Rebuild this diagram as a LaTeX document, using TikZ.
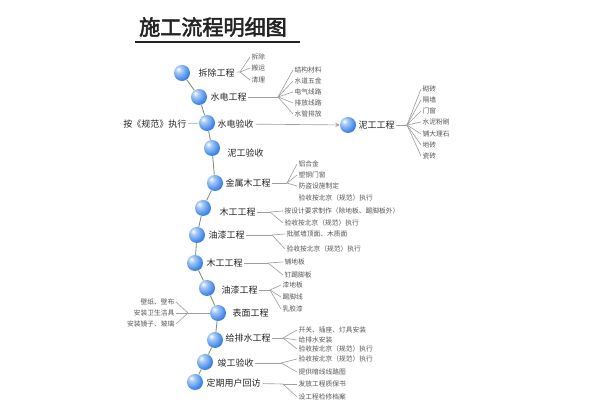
\documentclass[tikz,border=0pt]{standalone}
\usepackage{fontspec}
\newfontfamily\cjk[AutoFakeBold=2.5]{Noto Sans CJK SC}
\definecolor{ballblue}{RGB}{70,140,235}
\definecolor{balldark}{RGB}{25,75,170}
\definecolor{spine}{RGB}{120,145,115}
\definecolor{txt}{RGB}{35,35,35}
\definecolor{sub}{RGB}{85,85,85}
\pgfdeclareradialshading{glassball}{\pgfpoint{-12bp}{12bp}}{%
  color(0bp)=(white); color(9bp)=(ballblue!45!white); color(28bp)=(ballblue);
  color(48bp)=(balldark); color(70bp)=(balldark); color(100bp)=(balldark)}

\begin{document}
\begin{tikzpicture}[x=0.025cm,y=-0.025cm,
    ball/.style={circle,minimum size=0.4cm,inner sep=0pt,shading=glassball},
    main/.style={font=\cjk\fontsize{6.4}{7}\selectfont,text=txt,anchor=west,inner sep=1pt},
    item/.style={font=\cjk\fontsize{4.8}{5.5}\selectfont,text=sub,anchor=west,inner sep=1pt},
    wire/.style={draw=gray!75,line width=0.45pt}]
  \useasboundingbox (0,0) rectangle (600,412);

  \node[font=\cjk\bfseries\fontsize{15}{17}\selectfont,text=txt] (title) at (213,27) {施工流程明细图};
  \draw[line width=1.1pt,txt] (135,42) -- (300,42);

  % main chain
  \node[ball] (a1) at (182,73) {};
  \node[ball] (a2) at (199,97) {};
  \node[ball] (a3) at (207,123) {};
  \node[ball] (a4) at (212,148) {};
  \node[ball] (a5) at (215,183) {};
  \node[ball] (a6) at (203,208) {};
  \node[ball] (a7) at (197,235) {};
  \node[ball] (a8) at (195,263) {};
  \node[ball] (a9) at (207,288) {};
  \node[ball] (a10) at (218,313) {};
  \node[ball] (a11) at (215,340) {};
  \node[ball] (a12) at (205,362) {};
  \node[ball] (a13) at (195,382) {};

  \draw[spine,line width=0.6pt] (a1) -- (a2) -- (a3) -- (a4) -- (a5) -- (a6) -- (a7)
     -- (a8) -- (a9) -- (a10) -- (a11) -- (a12) -- (a13);

  \node[main] (t1) at (197,73) {拆除工程};
  \node[main] (t2) at (209,97) {水电工程};
  \node[main] (t3) at (216,124) {水电验收};
  \node[main] (t4) at (226,153) {泥工验收};
  \node[main] (t5) at (224,183) {金属木工程};
  \node[main] (t6) at (218,212) {木工工程};
  \node[main] (t7) at (207,235) {油漆工程};
  \node[main] (t8) at (205,263) {木工工程};
  \node[main] (t9) at (220,290) {油漆工程};
  \node[main] (t10) at (231,313) {表面工程};
  \node[main] (t11) at (224,338) {给排水工程};
  \node[main] (t12) at (216,363) {竣工验收};
  \node[main] (t13) at (205,383) {定期用户回访};

  % side branch
  \node[main,anchor=east] (l3) at (188,124) {按《规范》执行};
  \draw[wire] (l3) -- (a3);
  \node[ball] (b3) at (348,125) {};
  \node[main] (u3) at (357,125) {泥工工程};
  \draw[wire,-stealth] (t3) -- (b3);

  % fan points
  \coordinate (f1) at (240,72);
  \coordinate (f2) at (278,97);
  \coordinate (g3) at (407,125);
  \coordinate (f5) at (287,183);
  \coordinate (f6) at (270,212);
  \coordinate (f7) at (272,235);
  \coordinate (f8) at (268,263);
  \coordinate (f9) at (270,290);
  \coordinate (f10) at (188,313);
  \coordinate (f11) at (283,338);
  \coordinate (f12) at (281,363);
  \coordinate (f13) at (283,384);

  \node[item] (c1-1) at (250,57) {拆除};
  \node[item] (c1-2) at (250,68) {搬运};
  \node[item] (c1-3) at (250,80) {清理};

  \node[item] (c2-1) at (293,70) {结构材料};
  \node[item] (c2-2) at (293,81) {水道五金};
  \node[item] (c2-3) at (293,92) {电气线路};
  \node[item] (c2-4) at (293,103) {排放线路};
  \node[item] (c2-5) at (293,114) {水管排放};

  \node[item] (c3-1) at (421,89) {砌砖};
  \node[item] (c3-2) at (421,100) {隔墙};
  \node[item] (c3-3) at (421,111) {门窗};
  \node[item] (c3-4) at (421,122) {水泥粉刷};
  \node[item] (c3-5) at (421,134) {铺大理石};
  \node[item] (c3-6) at (421,145) {地砖};
  \node[item] (c3-7) at (421,156) {瓷砖};

  \node[item] (c5-1) at (297,164) {铝合金};
  \node[item] (c5-2) at (297,175) {塑钢门窗};
  \node[item] (c5-3) at (297,186) {防盗设施制定};
  \node[item] (c5-4) at (297,198) {验收按北京（规范）执行};

  \node[item] (c6-1) at (283,211) {按设计要求制作（除地板、踢脚板外）};
  \node[item] (c6-2) at (283,223) {验收按北京（规范）执行};

  \node[item] (c7-1) at (285,234) {批腻墙顶面、木质面};
  \node[item] (c7-2) at (285,249) {验收按北京（规范）执行};

  \node[item] (c8-1) at (283,262) {铺地板};
  \node[item] (c8-2) at (283,275) {钉踢脚板};

  \node[item] (c9-1) at (281,285) {漆地板};
  \node[item] (c9-2) at (281,297) {踢脚线};
  \node[item] (c9-3) at (281,309) {乳胶漆};

  \node[item,anchor=east] (c10-1) at (176,302) {壁纸、壁布};
  \node[item,anchor=east] (c10-2) at (176,313) {安装卫生洁具};
  \node[item,anchor=east] (c10-3) at (176,324) {安装镜子、玻璃};

  \node[item] (c11-1) at (297,330) {开关、插座、灯具安装};
  \node[item] (c11-2) at (297,340) {给排水安装};
  \node[item] (c11-3) at (297,349) {验收按北京（规范）执行};

  \node[item] (c12-1) at (297,359) {验收按北京（规范）执行};
  \node[item] (c12-2) at (297,372) {提供暗线线路图};

  \node[item] (c13-1) at (297,384) {发放工程质保书};
  \node[item] (c13-2) at (297,397) {设工程检修档案};

  % connectors
  \draw[wire] (t1) -- (f1);
  \draw[wire] (t2) -- (f2);
  \draw[wire] (u3) -- (g3);
  \draw[wire] (t5) -- (f5);
  \draw[wire] (t6) -- (f6);
  \draw[wire] (t7) -- (f7);
  \draw[wire] (t8) -- (f8);
  \draw[wire] (t9) -- (f9);
  \draw[wire] (a10) -- (f10);
  \draw[wire] (t11) -- (f11);
  \draw[wire] (t12) -- (f12);
  \draw[wire] (t13) -- (f13);

  \foreach \i in {1,2,3} \draw[wire] (f1) -- (c1-\i.west);
  \foreach \i in {1,...,5} \draw[wire] (f2) -- (c2-\i.west);
  \foreach \i in {1,...,7} \draw[wire] (g3) -- (c3-\i.west);
  \foreach \i in {1,2,3} \draw[wire] (f5) -- (c5-\i.west);
  \foreach \i in {1,2} \draw[wire] (f6) -- (c6-\i.west);
  \foreach \i in {1,2} \draw[wire] (f7) -- (c7-\i.west);
  \foreach \i in {1,2} \draw[wire] (f8) -- (c8-\i.west);
  \foreach \i in {1,2,3} \draw[wire] (f9) -- (c9-\i.west);
  \foreach \i in {1,2,3} \draw[wire] (f10) -- (c10-\i.east);
  \foreach \i in {1,2,3} \draw[wire] (f11) -- (c11-\i.west);
  \foreach \i in {1,2} \draw[wire] (f12) -- (c12-\i.west);
  \foreach \i in {1,2} \draw[wire] (f13) -- (c13-\i.west);

\end{tikzpicture}
\end{document}
